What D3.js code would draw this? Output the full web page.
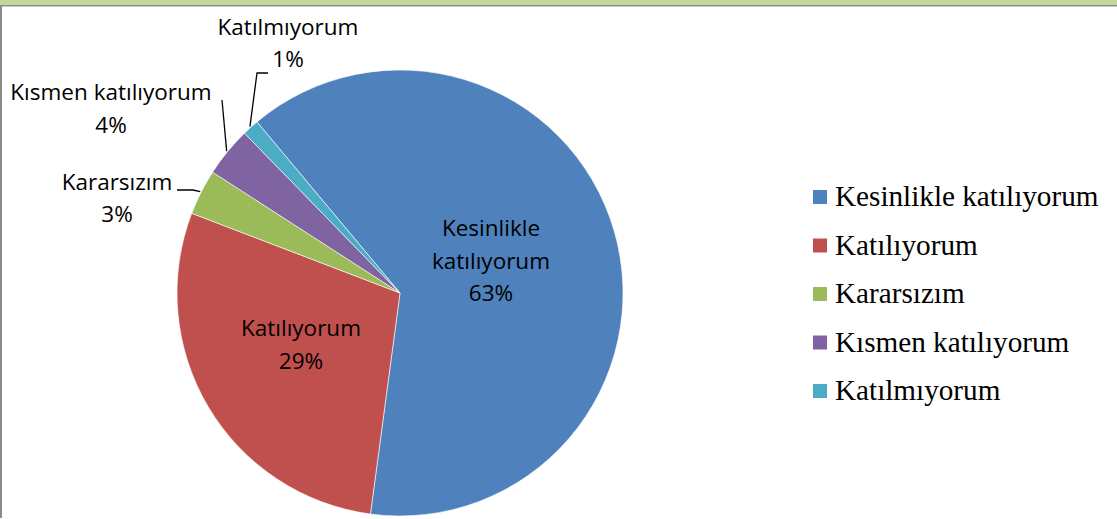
<!DOCTYPE html>
<html>
<head>
<meta charset="utf-8">
<script src="https://cdn.jsdelivr.net/npm/d3@7"></script>
<style>
  html, body { margin: 0; padding: 0; background: #fff; }
  svg { display: block; }
</style>
</head>
<body>
<svg id="chart" width="1117" height="519"></svg>
<script>
// Survey answers and their shares (percent)
const categories = ["Kesinlikle katılıyorum", "Katılıyorum", "Kararsızım", "Kısmen katılıyorum", "Katılmıyorum"];
const shares = [63.2, 28.7, 3.3, 3.6, 1.2];
const colors = ["#4f81bd", "#c0504d", "#9bbb59", "#8064a2", "#4bacc6"];
// Label text lines per slice (name may wrap)
const labelLines = [["Kesinlikle", "katılıyorum"], ["Katılıyorum"], ["Kararsızım"], ["Kısmen katılıyorum"], ["Katılmıyorum"]];

const W = 1117, H = 519;
const svg = d3.select("#chart");

// frame: green top band, grey rule, grey left edge
svg.append("rect").attr("x", 0).attr("y", 0).attr("width", W).attr("height", 5).attr("fill", "#c3d69b");
svg.append("rect").attr("x", 0).attr("y", 5).attr("width", W).attr("height", 1.5).attr("fill", "#8c8c8c");
svg.append("rect").attr("x", 0).attr("y", 5).attr("width", 2).attr("height", 513).attr("fill", "#8c8c8c");

const cx = 400, cy = 293, R = 223;
const start = -39.9 * Math.PI / 180;

const data = categories.map((c, i) => ({ name: c, value: shares[i], color: colors[i], lines: labelLines[i] }));
const pie = d3.pie().value(d => d.value).sort(null).startAngle(start).endAngle(start + 2 * Math.PI);
const arcs = pie(data);
const arc = d3.arc().innerRadius(0).outerRadius(R);

const g = svg.append("g").attr("transform", `translate(${cx},${cy})`);
g.selectAll("path").data(arcs).join("path")
  .attr("d", arc)
  .attr("fill", d => d.data.color)
  .attr("stroke", "#fff")
  .attr("stroke-width", 0.6);

const pct = v => Math.round(v) + "%";
const labelFont = "'Open Sans', 'Noto Sans', sans-serif";

// label anchor positions (page coordinates) and line height
const labelPos = [
  { x: 491, y: 236, lh: 32.5 },
  { x: 301, y: 336, lh: 32.5 },
  { x: 117, y: 190, lh: 32 },
  { x: 111, y: 100, lh: 33 },
  { x: 288, y: 35, lh: 32 }
];

data.forEach((d, i) => {
  const p = labelPos[i];
  const lines = d.lines.concat([pct(d.value)]);
  const t = svg.append("text")
    .attr("font-family", labelFont)
    .attr("font-size", 22.5)
    .attr("fill", "#000")
    .attr("text-anchor", "middle");
  lines.forEach((ln, k) => {
    t.append("tspan").attr("x", p.x).attr("y", p.y + k * p.lh).text(ln);
  });
});

// leader lines for the small outside slices
const leaders = [
  { i: 2, pts: [[177, 190], [193, 190]] },
  { i: 3, pts: [[222, 100]] },
  { i: 4, pts: [[268, 73], [257, 73]] }
];
leaders.forEach(l => {
  const a = arcs[l.i];
  const mid = (a.startAngle + a.endAngle) / 2;
  const edge = [cx + Math.sin(mid) * (R + 1), cy - Math.cos(mid) * (R + 1)];
  svg.append("path")
    .attr("d", d3.line()(l.pts.concat([edge])))
    .attr("fill", "none")
    .attr("stroke", "#000")
    .attr("stroke-width", 1.3);
});

// legend
const legend = svg.append("g").attr("transform", "translate(813,190)");
const rowH = 48.5;
data.forEach((d, i) => {
  const row = legend.append("g").attr("transform", `translate(0,${i * rowH})`);
  row.append("rect").attr("x", 0).attr("y", 0).attr("width", 14).attr("height", 14).attr("fill", d.color);
  row.append("text")
    .attr("x", 22).attr("y", 16)
    .attr("font-family", "'Liberation Serif', 'Times New Roman', serif")
    .attr("font-size", 29.2)
    .attr("fill", "#000")
    .text(d.name);
});
</script>
</body>
</html>
